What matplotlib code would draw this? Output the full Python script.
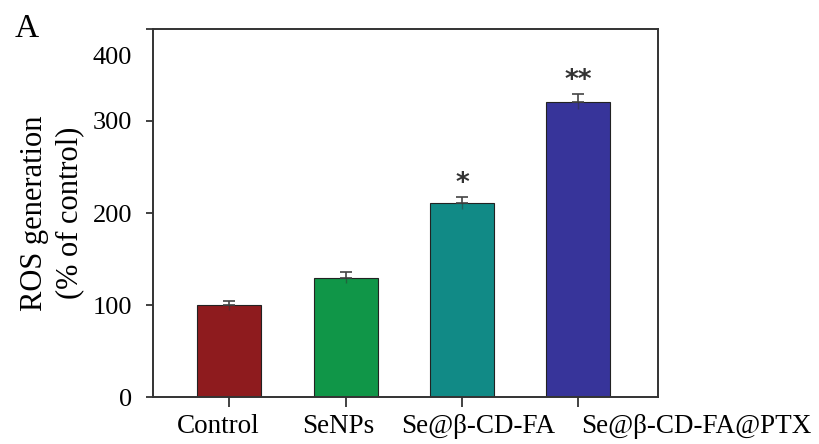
import matplotlib.pyplot as plt
import matplotlib.transforms as mtransforms
import numpy as np

plt.rcParams['font.family'] = ['Liberation Serif', 'DejaVu Serif']

groups = ['Control', 'SeNPs', 'Se@β-CD-FA', 'Se@β-CD-FA@PTX']
ros = [100, 130, 211, 321]  # % of control
err = [5, 6, 7, 8]
stars = ['', '', '*', '**']
colors = ['#8e1b1e', '#109648', '#118a86', '#37349a']
# labels in the figure sit shifted from their ticks
label_shift = [-0.095, -0.06, 0.14, 1.01]

fig = plt.figure(figsize=(8.19, 4.44), dpi=100)
ax = fig.add_axes([0.187, 0.105, 0.617, 0.830])

x = np.arange(len(groups))
ax.bar(x, ros, width=0.55, color=colors, edgecolor='#222222', linewidth=0.8, zorder=2)
ax.errorbar(x, ros, yerr=[np.zeros(len(err)), err], fmt='none', ecolor='#444444',
            elinewidth=1.2, capsize=4, capthick=1.2, zorder=3)
ax.errorbar(x, ros, yerr=[err, np.zeros(len(err))], fmt='none', ecolor='#333333',
            elinewidth=1.0, capsize=0, alpha=0.5, zorder=3)

for xi, v, e, s in zip(x, ros, err, stars):
    if s:
        ax.text(xi, v + e + 14, s, ha='center', va='center', fontsize=19,
                family='DejaVu Sans', weight='bold', color='#333333')

ax.set_xlim(-0.653, 3.689)
ax.set_ylim(0, 400)
ax.set_yticks([0, 100, 200, 300, 400])
ax.set_xticks(x)
ax.set_xticklabels([])
trans = mtransforms.blended_transform_factory(ax.transData, ax.transAxes)
for xi, lab, dx in zip(x, groups, label_shift):
    ax.text(xi + dx, -0.045, lab, transform=trans, ha='center', va='top',
            fontsize=19.5, clip_on=False)

ax.tick_params(axis='both', direction='out', labelsize=19, width=1.3, color='#333333')
ax.tick_params(axis='y', length=5, pad=10)
ax.tick_params(axis='x', length=7)
for sp in ax.spines.values():
    sp.set_linewidth(1.4)
    sp.set_color('#333333')

# the top label "400" is printed a bit below its tick in the original
fig.canvas.draw()
top_lab = ax.get_yticklabels()[-1]
top_lab.set_transform(top_lab.get_transform() +
                      mtransforms.ScaledTranslation(0, -0.27, fig.dpi_scale_trans))

ax.set_ylabel('ROS generation\n(% of control)', fontsize=22, linespacing=1.3, labelpad=6)
fig.text(0.018, 0.935, 'A', fontsize=24, ha='left', va='center')

fig.savefig('out.png', dpi=100)
